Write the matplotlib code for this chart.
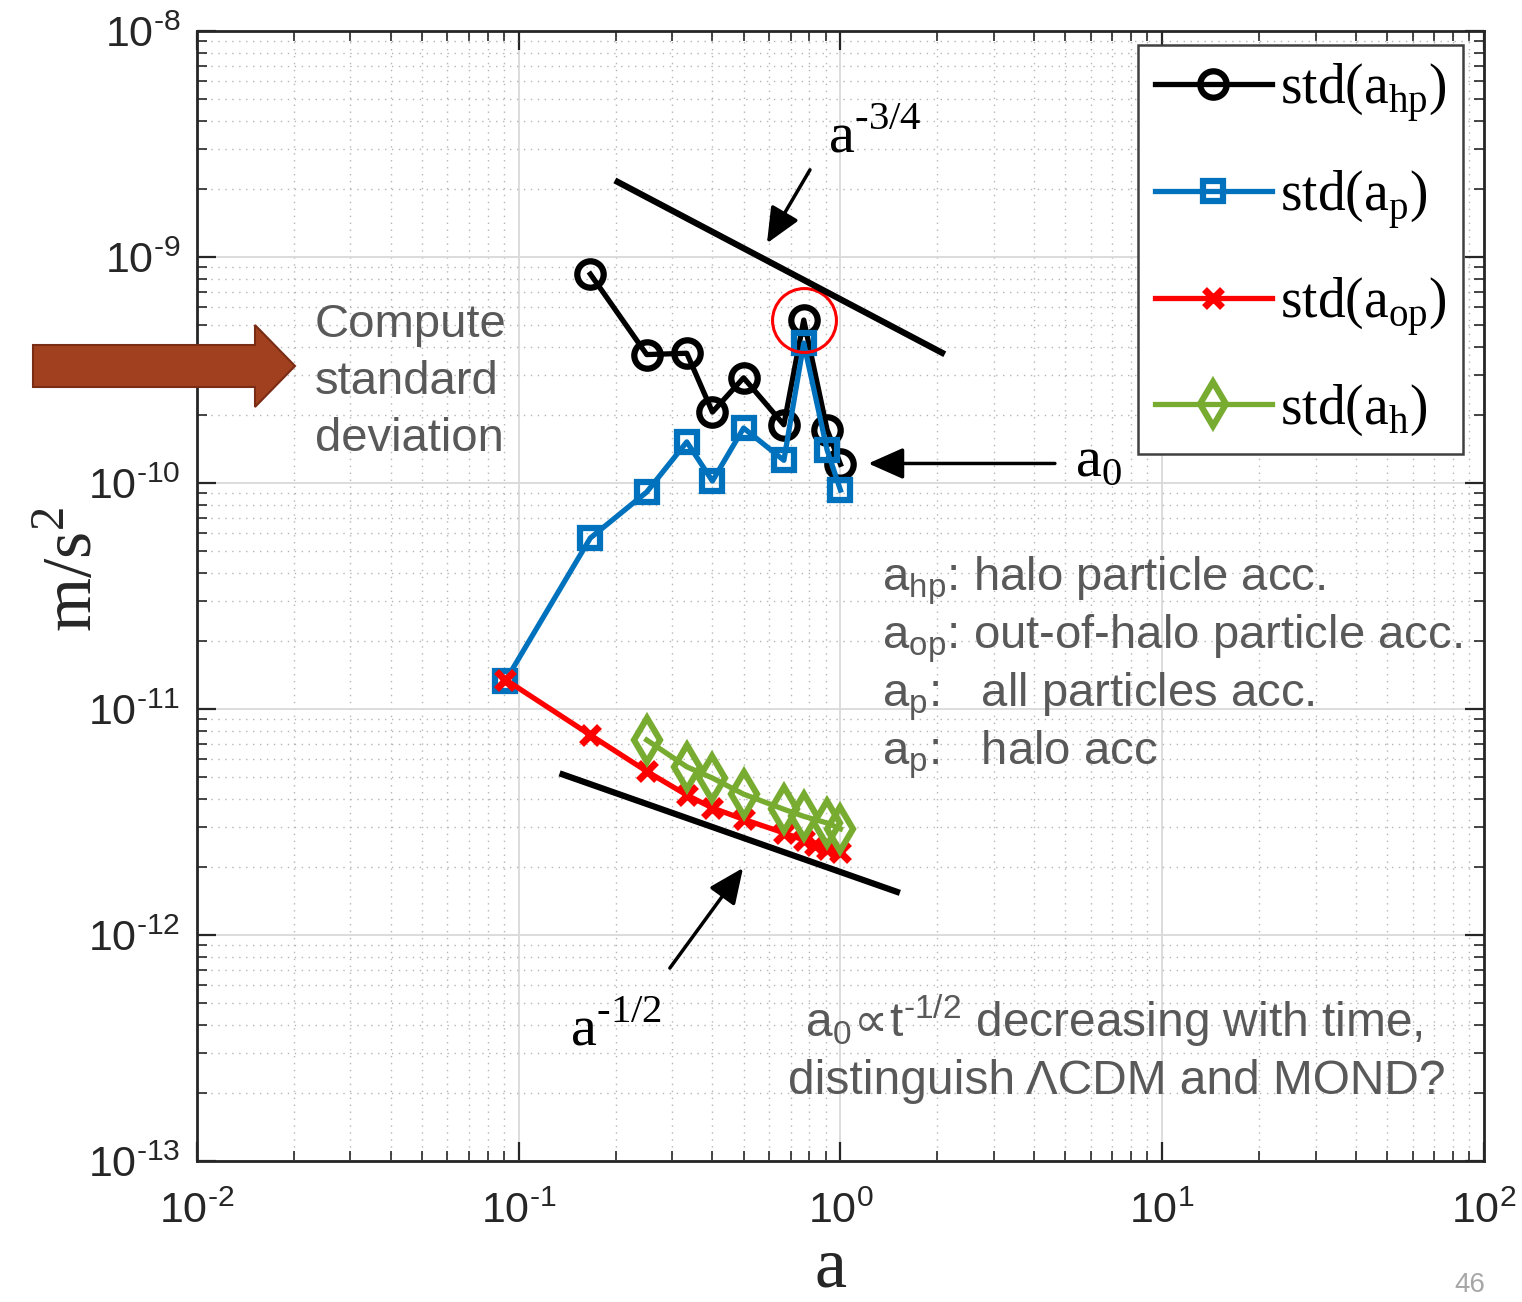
import numpy as np
import matplotlib
matplotlib.use("Agg")
import matplotlib.pyplot as plt
from matplotlib import font_manager
from matplotlib.ticker import LogLocator, NullFormatter, FuncFormatter
from matplotlib.patches import FancyArrow

# scale factor where each std was taken
a_hp_x = [0.167, 0.25, 0.333, 0.40, 0.50, 0.667, 0.769, 0.909, 1.0]
a_hp = [8.4e-10, 3.7e-10, 3.75e-10, 2.06e-10, 2.92e-10, 1.81e-10, 5.26e-10, 1.72e-10, 1.21e-10]

a_p_x = [0.0909, 0.167, 0.25, 0.333, 0.40, 0.50, 0.667, 0.769, 0.909, 1.0]
a_p = [1.33e-11, 5.71e-11, 9.12e-11, 1.52e-10, 1.02e-10, 1.75e-10, 1.26e-10, 4.16e-10, 1.40e-10, 9.3e-11]

a_op_x = [0.0909, 0.167, 0.25, 0.333, 0.40, 0.50, 0.667, 0.769, 0.833, 0.909, 1.0]
a_op = [1.35e-11, 7.67e-12, 5.3e-12, 4.16e-12, 3.65e-12, 3.25e-12, 2.83e-12, 2.63e-12, 2.5e-12, 2.4e-12, 2.33e-12]

a_h_x = [0.25, 0.333, 0.40, 0.50, 0.667, 0.769, 0.909, 1.0]
a_h = [7.29e-12, 5.55e-12, 4.95e-12, 4.2e-12, 3.6e-12, 3.35e-12, 3.13e-12, 2.95e-12]

# the spike in the halo-particle curve that gets circled
spike_x = 0.769

# power-law guides: x range and amplitude
guide34_x = [0.199, 2.11]
guide34_amp = 6.5e-10
guide12_x = [0.134, 1.53]
guide12_amp = 1.9e-12

x_ticks = [1e-2, 1e-1, 1e0, 1e1, 1e2]
y_ticks = [1e-13, 1e-12, 1e-11, 1e-10, 1e-9, 1e-8]

HY = '\u2010'  # hyphen, mathtext would turn '-' into a long minus

legend_labels = ['std(a$_{\\mathdefault{hp}}$)', 'std(a$_{\\mathdefault{p}}$)',
                 'std(a$_{\\mathdefault{op}}$)', 'std(a$_{\\mathdefault{h}}$)']

notes = ['a$_{\\mathdefault{hp}}$: halo particle acc.',
         'a$_{\\mathdefault{op}}$: out-of-halo particle acc.',
         'a$_{\\mathdefault{p}}$:   all particles acc.',
         'a$_{\\mathdefault{p}}$:   halo acc']

names = {f.name for f in font_manager.fontManager.ttflist}
tick_font = 'Liberation Sans Narrow' if 'Liberation Sans Narrow' in names else 'Liberation Sans'

plt.rcParams['mathtext.fontset'] = 'dejavusans'
plt.rcParams['axes.unicode_minus'] = False

gray = '#595959'
serif = 'Liberation Serif'
sans = ['Liberation Sans', 'DejaVu Sans']


def pow10(v, pos):
    e = int(round(np.log10(v)))
    s = (HY + str(-e)) if e < 0 else str(e)
    return '$\\mathdefault{10^{%s}}$' % s


fig = plt.figure(figsize=(15.22, 13.02), dpi=100)
ax = fig.add_axes([0.1294, 0.1083, 0.8456, 0.8679])
ax.set_xscale('log')
ax.set_yscale('log')
ax.set_xlim(x_ticks[0], x_ticks[-1])
ax.set_ylim(y_ticks[0], y_ticks[-1])
ax.set_xticks(x_ticks)
ax.set_yticks(y_ticks)

for axis in (ax.xaxis, ax.yaxis):
    axis.set_major_formatter(FuncFormatter(pow10))
    axis.set_minor_locator(LogLocator(base=10, subs=np.arange(2, 10), numticks=100))
    axis.set_minor_formatter(NullFormatter())

ax.grid(which='major', color='#d9d9d9', lw=1.3, ls='-')
ax.grid(which='minor', color='#b5b5b5', lw=1.0, ls=(0, (1, 4)))
ax.set_axisbelow(True)
ax.tick_params(which='both', direction='in', top=True, right=True, color='#262626')
ax.tick_params(which='major', length=14, width=1.6, labelsize=31, labelfontfamily=tick_font,
               labelcolor='#262626')
ax.tick_params(axis='x', which='major', pad=22)
ax.tick_params(axis='y', which='major', pad=12)
ax.tick_params(which='minor', length=7, width=1.2, labelleft=False, labelbottom=False)
for sp in ax.spines.values():
    sp.set_color('#262626')
    sp.set_linewidth(2)

lw = 3.8
ax.plot(a_hp_x, a_hp, '-o', color='black', lw=lw, ms=19, mew=4.5, mfc='none', label=legend_labels[0])
ax.plot(a_p_x, a_p, '-s', color='#0072BD', lw=lw, ms=15, mew=4.5, mfc='none', label=legend_labels[1])
ax.plot(a_op_x, a_op, '-x', color='#FF0000', lw=lw, ms=13, mew=5, label=legend_labels[2])
ax.plot(a_h_x, a_h, '-d', color='#77AC30', lw=lw, ms=22, mew=4.5, mfc='none', label=legend_labels[3])

# circle the spike of the halo-particle curve
k = a_hp_x.index(spike_x)
ax.plot(a_hp_x[k], a_hp[k], 'o', ms=46, mfc='none', mec='red', mew=2.2)

# reference slopes
g34 = np.array(guide34_x)
ax.plot(g34, guide34_amp * g34 ** (-3 / 4), color='black', lw=4.5, solid_capstyle='butt')
g12 = np.array(guide12_x)
ax.plot(g12, guide12_amp * g12 ** (-1 / 2), color='black', lw=4.5, solid_capstyle='butt')

arrow = dict(arrowstyle='-|>,head_length=0.9,head_width=0.4', color='black', lw=2.5,
             mutation_scale=24, shrinkA=0, shrinkB=0)
ax.annotate('', xy=(0.591, 1.15e-9), xytext=(0.804, 2.43e-9), arrowprops=arrow)
ax.annotate('', xy=(1.22, 1.22e-10), xytext=(4.64, 1.22e-10), arrowprops=arrow)
ax.annotate('', xy=(0.498, 1.98e-12), xytext=(0.295, 7.14e-13), arrowprops=arrow)

ax.text(0.490, 0.893, 'a$^{\\mathdefault{%s3/4}}$' % HY, transform=ax.transAxes, family=serif, size=42)
ax.text(0.682, 0.607, 'a$_{\\mathdefault{0}}$', transform=ax.transAxes, family=serif, size=42)
ax.text(0.290, 0.103, 'a$^{\\mathdefault{%s1/2}}$' % HY, transform=ax.transAxes, family=serif, size=42)

leg = ax.legend(loc='upper right', bbox_to_anchor=(0.984, 0.988), prop={'family': serif, 'size': 40},
                handlelength=2.1, handletextpad=0.15, labelspacing=0.8, borderpad=0.3,
                borderaxespad=0, fancybox=False, framealpha=1, edgecolor='#404040')
leg.get_frame().set_linewidth(1.8)

for i, line in enumerate(['Compute', 'standard', 'deviation']):
    ax.text(0.0917, 0.729 - 0.0505 * i, line, transform=ax.transAxes, family=sans,
            size=34, color=gray, va='baseline')

for i, line in enumerate(notes):
    ax.text(0.532, 0.505 - 0.0513 * i, line, transform=ax.transAxes, family=sans,
            size=34, color=gray, va='baseline')

ax.text(0.4724, 0.110,
        'a$_{\\mathdefault{0}}\\!\\propto\\!\\mathdefault{t}^{\\mathdefault{%s1/2}}$ decreasing with time,' % HY,
        transform=ax.transAxes, family=sans, size=34.5, color=gray, va='baseline')
ax.text(0.459, 0.0593, 'distinguish \u039bCDM and MOND?', transform=ax.transAxes,
        family=sans, size=34.5, color=gray, va='baseline')

ax.set_xlabel('a', family=serif, size=52, color='#262626')
ax.xaxis.set_label_coords(0.492, -0.1239)
ax.xaxis.label.set_va('bottom')
ax.set_ylabel('m/s$^{\\mathdefault{2}}$', family=serif, size=50, color='#262626')
ax.yaxis.set_label_coords(-0.0948, 0.523)
ax.yaxis.label.set_va('center')

# big arrow pointing at the note
fig.patches.append(FancyArrow(0.33, 9.36, 2.62, 0, width=0.42, head_width=0.82, head_length=0.40,
                              length_includes_head=True, facecolor='#A0401E', edgecolor='#7B2C14',
                              lw=1.5, transform=fig.dpi_scale_trans, figure=fig))

fig.text(1470 / 1522, 1 - 1292 / 1302, '46', family=sans, size=20, color='#A6A6A6',
         ha='center', va='baseline')

fig.savefig('out.png', dpi=100, facecolor='white')
